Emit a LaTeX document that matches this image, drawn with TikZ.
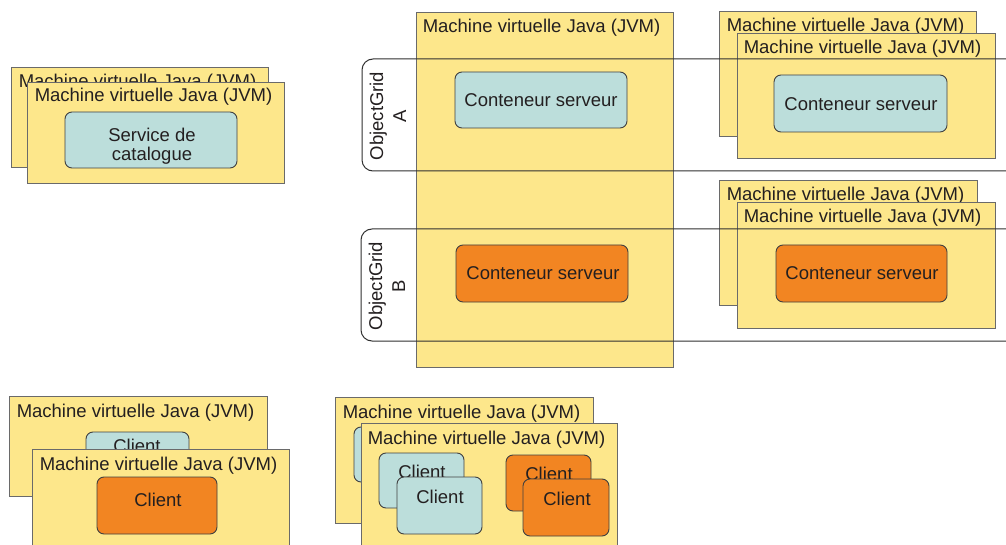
\documentclass[tikz,border=0pt]{standalone}
\usepackage{fontspec}
\setmainfont{Liberation Sans}
\usetikzlibrary{fit,calc}
\definecolor{jvmfill}{HTML}{FDE78B}
\definecolor{jvmline}{HTML}{6A6A6A}
\definecolor{cyanfill}{HTML}{BCDEDB}
\definecolor{orgfill}{HTML}{F28522}
\definecolor{contline}{HTML}{404040}
\definecolor{bandline}{HTML}{303030}
\definecolor{txt}{HTML}{231F20}
\begin{document}
\begin{tikzpicture}[x=1pt,y=-1pt,
  every node/.style={font=\fontsize{18.5}{22}\selectfont, text=txt},
  jvm/.style={draw=jvmline, fill=jvmfill, line width=0.9pt, inner sep=0pt, rectangle},
  lbl/.style={anchor=west, inner sep=0pt},
  cont/.style={draw=contline, line width=0.9pt, rounded corners=7pt, inner sep=0pt, rectangle},
  cy/.style={cont, fill=cyanfill},
  org/.style={cont, fill=orgfill},
  band/.style={draw=bandline, line width=1pt, rounded corners=11pt},
  grid/.style={rotate=90, align=center, inner sep=0pt, font=\fontsize{18.5}{23}\selectfont}]
\useasboundingbox[fill=white] (0,0) rectangle (1006,545);

% ---- top left: catalogue service
\node[jvm, fit={(11,67)(268,167)}] (tlb) {};
\node[lbl] (tlbL) at ($(tlb.north west)+(8,16)$) {Machine virtuelle Java (JVM)};
\node[jvm, fit={(27,82)(284,183)}] (tlf) {};
\node[lbl] (tlfL) at ($(tlf.north west)+(8,15)$) {Machine virtuelle Java (JVM)};
\node[cy, fit={(65,112)(237,168)}] (svc) {};
\node[align=center, inner sep=0pt, font=\fontsize{18.5}{19.5}\selectfont] (svcT) at (152,146) {Service de\\catalogue};

% ---- tall JVM
\node[jvm, fit={(416,12)(673,367)}] (mid) {};
\node[lbl] (midL) at ($(mid.north west)+(7,16)$) {Machine virtuelle Java (JVM)};
\node[cy, fit={(455,72)(627,128)}] (ca) {};
\node (caT) at (541,100) {Conteneur serveur};
\node[org, fit={(456,245)(628,302)}] (cb) {};
\node (cbT) at (543,273) {Conteneur serveur};

% ---- right top
\node[jvm, fit={(719,11)(976,136)}] (rtb) {};
\node[lbl] (rtbL) at ($(rtb.north west)+(8,16)$) {Machine virtuelle Java (JVM)};
\node[jvm, fit={(737,33)(995,158)}] (rtf) {};
\node[lbl] (rtfL) at ($(rtf.north west)+(7,16)$) {Machine virtuelle Java (JVM)};
\node[cy, fit={(774,75)(947,132)}] (rtc) {};
\node (rtcT) at (861,104) {Conteneur serveur};

% ---- right bottom
\node[jvm, fit={(719,180)(977,305)}] (rbb) {};
\node[lbl] (rbbL) at ($(rbb.north west)+(8,16)$) {Machine virtuelle Java (JVM)};
\node[jvm, fit={(737,202)(995,328)}] (rbf) {};
\node[lbl] (rbfL) at ($(rbf.north west)+(7,16)$) {Machine virtuelle Java (JVM)};
\node[org, fit={(776,245)(947,302)}] (rbc) {};
\node (rbcT) at (862,273) {Conteneur serveur};

% ---- ObjectGrid bands
\draw[band] (1030,59) -- (362,59) -- (362,171) -- (1030,171);
\node[grid] (ogA) at (388,116) {ObjectGrid\\A};
\draw[band] (1030,229) -- (361,229) -- (361,341) -- (1030,341);
\node[grid] (ogB) at (387,286) {ObjectGrid\\B};

% ---- bottom left clients
\node[jvm, fit={(9,396)(267,496)}] (blb) {};
\node[lbl] (blbL) at ($(blb.north west)+(8,17)$) {Machine virtuelle Java (JVM)};
\node[cy, fit={(86,432)(189,490)}] (blc1) {};
\node (blc1T) at (137,446) {Client};
\node[jvm, fit={(32,449)(289,570)}] (blf) {};
\node[lbl] (blfL) at ($(blf.north west)+(8,17)$) {Machine virtuelle Java (JVM)};
\node[org, fit={(97,477)(217,534)}] (blc2) {};
\node (blc2T) at (158,500) {Client};

% ---- bottom middle clients
\node[jvm, fit={(335,397)(593,523)}] (bmb) {};
\node[lbl] (bmbL) at ($(bmb.north west)+(8,17)$) {Machine virtuelle Java (JVM)};
\node[cy, fit={(354,427)(440,482)}] (bmh) {};
\node[jvm, fit={(361,423)(617,570)}] (bmf) {};
\node[lbl] (bmfL) at ($(bmf.north west)+(7,17)$) {Machine virtuelle Java (JVM)};
\node[cy, fit={(379,453)(464,508)}] (bc1) {};
\node (bc1T) at (422,472) {Client};
\node[cy, fit={(397,477)(482,534)}] (bc2) {};
\node (bc2T) at (440,497) {Client};
\node[org, fit={(506,455)(591,511)}] (bo1) {};
\node (bo1T) at (549,474) {Client};
\node[org, fit={(523,479)(609,536)}] (bo2) {};
\node (bo2T) at (567,499) {Client};
\end{tikzpicture}
\end{document}
